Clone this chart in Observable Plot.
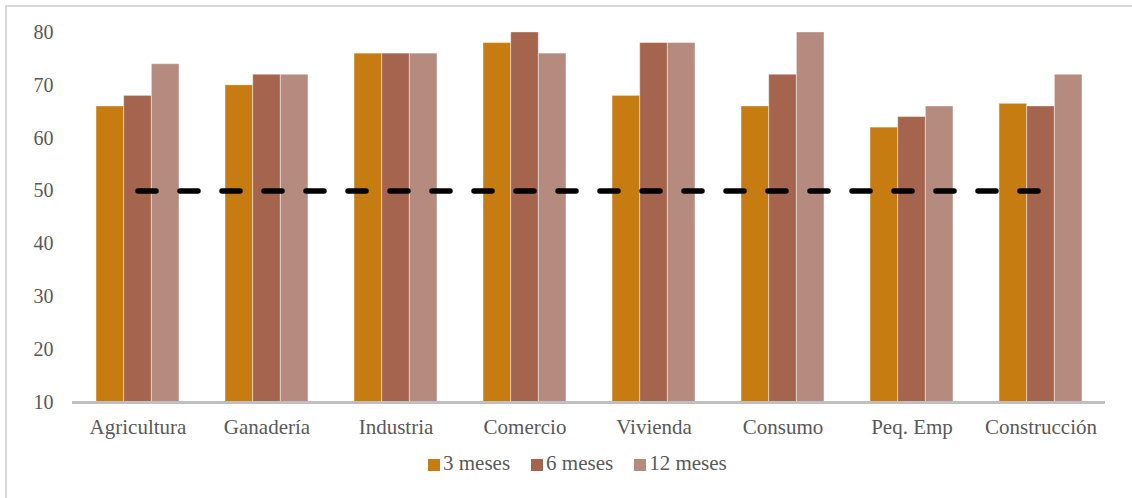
<!DOCTYPE html>
<html>
<head>
<meta charset="utf-8">
<script src="https://cdn.jsdelivr.net/npm/d3@7"></script>
<script src="https://cdn.jsdelivr.net/npm/@observablehq/plot@0.6"></script>
<style>
  html, body { margin: 0; padding: 0; background: #fff; }
  #wrap { position: relative; width: 1132px; height: 498px; overflow: hidden; font-family: "Liberation Serif", serif; color: #595959; }
  #frame { position: absolute; left: 5px; top: 5px; width: 1200px; height: 600px; border-top: 2px solid #d9d9d9; border-left: 2px solid #d9d9d9; }
  #chart { position: absolute; left: 0; top: 0; }
  #legend { position: absolute; left: 428px; top: 453px; height: 21px; display: flex; align-items: center; font-size: 21px; line-height: 21px; color: #595959; }
  .item { display: flex; align-items: center; margin-right: 21px; }
  .sw { width: 12px; height: 12px; margin-right: 3px; margin-top: 3px; }
</style>
</head>
<body>
<div id="wrap">
  <div id="frame"></div>
  <div id="chart"></div>
  <div id="legend"></div>
</div>
<script>
const categories = ["Agricultura", "Ganadería", "Industria", "Comercio", "Vivienda", "Consumo", "Peq. Emp", "Construcción"];
const seriesNames = ["3 meses", "6 meses", "12 meses"];
const meses3 = [66, 70, 76, 78, 68, 66, 62, 66.5];
const meses6 = [68, 72, 76, 80, 78, 72, 64, 66];
const meses12 = [74, 72, 76, 76, 78, 80, 66, 72];
const threshold = 50;
const yTicks = [10, 20, 30, 40, 50, 60, 70, 80];
const colors = ["#C77C11", "#A5644E", "#B58B80"];

const seriesValues = [meses3, meses6, meses12];

const W = 1132, H = 445, mL = 72, mR = 27, mT = 32, mB = 43;
const bw = (W - mL - mR) / categories.length;
const groupW = bw * 0.643;
const barW = groupW / 3;
const pad = (bw - groupW) / 2;

const barMarks = seriesValues.map((vals, i) => {
  const rows = categories.map((c, j) => ({cat: c, v: vals[j]}));
  const il = pad + i * barW;
  const ir = bw - il - barW;
  return Plot.barY(rows, {
    x: "cat", y1: yTicks[0], y2: "v",
    fill: colors[i], insetLeft: il, insetRight: ir,
    stroke: "#ffffff", strokeOpacity: 0.35, strokeWidth: 1
  });
});

const lineRows = categories.map(c => ({cat: c, v: threshold}));

const chart = Plot.plot({
  width: W, height: H,
  marginLeft: mL, marginRight: mR, marginTop: mT, marginBottom: mB,
  style: {fontFamily: "Liberation Serif, serif", color: "#595959", background: "transparent", overflow: "visible"},
  x: {domain: categories, padding: 0},
  y: {domain: [10, 80]},
  marks: [
    ...barMarks,
    Plot.ruleY([yTicks[0]], {stroke: "#bfbfbf", strokeWidth: 3}),
    Plot.lineY(lineRows, {x: "cat", y: "v", stroke: "#000", strokeWidth: 5.5, strokeDasharray: "18,24", strokeLinecap: "round"}),
    Plot.axisY({ticks: yTicks, tickSize: 0, tickPadding: 19, fontSize: 20, label: null, fill: "#595959"}),
    Plot.axisX({tickSize: 0, tickPadding: 17, fontSize: 21, label: null, fill: "#595959"})
  ]
});
document.getElementById("chart").appendChild(chart);

const legend = document.getElementById("legend");
seriesNames.forEach((name, i) => {
  const item = document.createElement("div");
  item.className = "item";
  const sw = document.createElement("span");
  sw.className = "sw";
  sw.style.background = colors[i];
  const t = document.createElement("span");
  t.textContent = name;
  item.appendChild(sw);
  item.appendChild(t);
  legend.appendChild(item);
});
</script>
</body>
</html>
